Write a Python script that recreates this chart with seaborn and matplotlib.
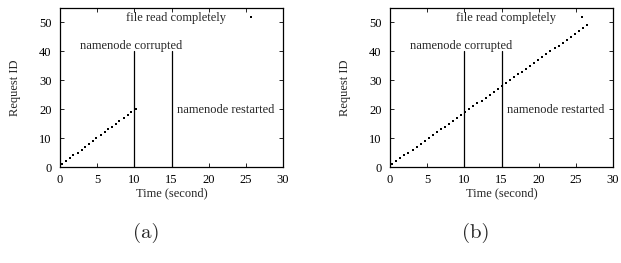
import matplotlib
matplotlib.use("Agg")
import matplotlib.pyplot as plt
import seaborn as sns
import pandas as pd

# ---- data ----
ids_a = list(range(1, 21))
times_a = [0.3, 0.8, 1.3, 1.8, 2.4, 2.9, 3.4, 3.9, 4.4, 4.9,
           5.5, 6.0, 6.5, 7.0, 7.5, 8.0, 8.6, 9.1, 9.6, 10.2]

ids_b = list(range(1, 50))
times_b = [0.30, 0.85, 1.39, 1.94, 2.48, 3.03, 3.58, 4.12, 4.67, 5.21,
           5.76, 6.31, 6.85, 7.40, 7.94, 8.49, 9.04, 9.58, 10.13, 10.67,
           11.22, 11.77, 12.31, 12.86, 13.40, 13.95, 14.50, 15.04, 15.59, 16.13,
           16.68, 17.23, 17.77, 18.32, 18.86, 19.41, 19.96, 20.50, 21.05, 21.59,
           22.14, 22.69, 23.23, 23.78, 24.32, 24.87, 25.42, 25.96, 26.51]

done_a = (25.7, 52)
done_b = (25.8, 52)

event_times = [10, 15]
event_top = 40
x_ticks = [0, 5, 10, 15, 20, 25, 30]
y_ticks = [0, 10, 20, 30, 40, 50]
panel_labels = ["(a)", "(b)"]

sns.set_style("ticks")
plt.rcParams["font.family"] = ["Liberation Serif", "DejaVu Serif"]

fig = plt.figure(figsize=(6.21, 2.63), dpi=100)
ax_a = fig.add_axes([60 / 621, 1 - 167 / 263, 223 / 621, 159 / 263])
ax_b = fig.add_axes([390 / 621, 1 - 167 / 263, 223 / 621, 159 / 263])

fs = 9
for ax, times, ids, done, lab, lx in [
    (ax_a, times_a, ids_a, done_a, panel_labels[0], 146 / 621),
    (ax_b, times_b, ids_b, done_b, panel_labels[1], 476 / 621),
]:
    df = pd.DataFrame({"t": times + [done[0]], "id": ids + [done[1]]})
    sns.scatterplot(data=df, x="t", y="id", ax=ax, color="black", marker="s",
                    s=4, linewidth=0, legend=False)
    for et in event_times:
        ax.plot([et, et], [0, event_top], color="black", lw=0.9)
    ax.set_xlim(0, 30)
    ax.set_ylim(0, 55)
    ax.set_xticks(x_ticks)
    ax.set_yticks(y_ticks)
    ax.tick_params(direction="in", length=3, width=0.6, top=True, right=True,
                   labelsize=fs, colors="black")
    ax.tick_params(axis="x", pad=5)
    ax.tick_params(axis="y", pad=6)
    for sp in ax.spines.values():
        sp.set_linewidth(0.9)
        sp.set_color("black")
    ax.set_xlabel("Time (second)", fontsize=fs, labelpad=1)
    ax.set_ylabel("Request ID", fontsize=fs, labelpad=13)
    ax.text(9.6, 42.0, "namenode corrupted", fontsize=fs, ha="center", va="center")
    ax.text(15.7, 19.7, "namenode restarted", fontsize=fs, ha="left", va="center")
    ax.text(15.6, 51.6, "file read completely", fontsize=fs, ha="center", va="center")
    fig.text(lx, 1 - 233 / 263, lab, fontsize=15, family="cmr10",
             ha="center", va="center")

fig.savefig("out.png", dpi=100)
